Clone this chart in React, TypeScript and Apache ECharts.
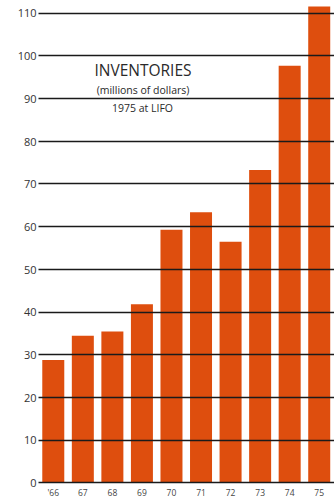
import React, { useEffect, useRef } from "react";
import * as echarts from "echarts";

// Year labels and inventory values (millions of dollars)
const years = ["'66", "67", "68", "69", "70", "71", "72", "73", "74", "75"];
const inventories = [28.7, 34.4, 35.4, 41.8, 59.2, 63.3, 56.4, 73.2, 97.6, 111.5];
const yTicks = [0, 10, 20, 30, 40, 50, 60, 70, 80, 90, 100, 110];

const titleLines = ["INVENTORIES", "(millions of dollars)", "1975 at LIFO"];

const FONT = "'Open Sans', 'DejaVu Sans', sans-serif";

export default function App() {
  const ref = useRef<HTMLDivElement>(null);

  useEffect(() => {
    if (!ref.current) return;
    const chart = echarts.init(ref.current, undefined, { renderer: "svg" });
    const textStyle = (size: number, weight = 400) => ({
      font: `${weight} ${size}px ${FONT}`,
      fill: "#2a2a2a",
      align: "center",
      verticalAlign: "middle",
    });
    chart.setOption({
      animation: false,
      backgroundColor: "#ffffff",
      grid: { left: 38.5, right: -3.8, top: 12.9, bottom: 17.3 },
      graphic: [
        {
          type: "text",
          x: 143,
          y: 70,
          z: 10,
          style: { text: titleLines[0], ...textStyle(15.5) },
        },
        {
          type: "text",
          x: 143,
          y: 90,
          z: 10,
          style: { text: titleLines[1], ...textStyle(10.5) },
        },
        {
          type: "text",
          x: 142.5,
          y: 108,
          z: 10,
          style: { text: titleLines[2], ...textStyle(10.5) },
        },
      ],
      xAxis: {
        type: "category",
        data: years,
        axisLine: { show: false },
        axisTick: { show: false },
        axisLabel: {
          color: "#444",
          fontSize: 8.5,
          fontFamily: FONT,
          margin: 5,
        },
      },
      yAxis: {
        type: "value",
        min: 0,
        max: 110,
        interval: 10,
        z: 5,
        axisLine: { show: false },
        axisTick: { show: false },
        axisLabel: {
          color: "#333",
          fontSize: 11,
          fontFamily: FONT,
          margin: 2,
          formatter: (v: number) => (yTicks.includes(v) ? String(v) : ""),
        },
        splitLine: {
          show: true,
          lineStyle: { color: "#1a1a1a", width: 1.3 },
        },
      },
      series: [
        {
          type: "bar",
          data: inventories,
          barWidth: 22,
          clip: false,
          itemStyle: { color: "#de4e0e" },
          z: 2,
        },
      ],
    });
    return () => chart.dispose();
  }, []);

  return (
    <div
      ref={ref}
      style={{ position: "fixed", left: 0, top: 0, width: 334, height: 500 }}
    />
  );
}
